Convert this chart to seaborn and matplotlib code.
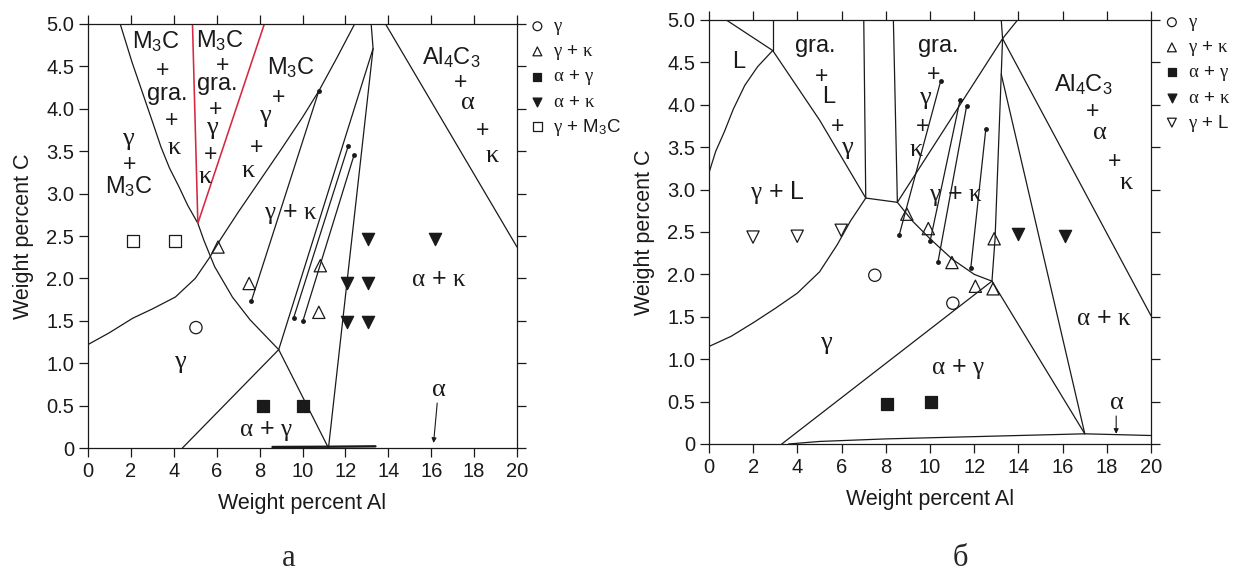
#!/usr/bin/env python3

import seaborn as sns
import matplotlib.pyplot as plt
from matplotlib.ticker import FixedLocator, FixedFormatter

# ---- panel a: phase boundaries (wt.% Al, wt.% C) ----
a_m3c_edge = [(1.5, 5.0), (2.05, 4.55), (2.58, 4.16), (3.0, 3.85), (3.4, 3.55), (3.8, 3.3),
              (4.24, 3.08), (4.65, 2.86), (5.12, 2.65), (5.4, 2.45), (5.9, 2.14), (6.73, 1.78),
              (7.56, 1.51), (8.89, 1.16), (11.21, 0.0)]
a_red_left = [(5.12, 2.65), (4.87, 5.0)]
a_red_right = [(5.12, 2.65), (8.22, 5.0)]
a_gamma_edge = [(0.0, 1.22), (1.0, 1.36), (2.08, 1.53), (3.0, 1.64), (4.07, 1.78), (5.0, 2.0),
                (5.65, 2.24), (6.2, 2.47), (7.0, 2.78), (8.0, 3.15), (9.0, 3.52), (10.0, 3.9),
                (10.76, 4.21), (11.6, 4.6), (12.43, 5.0)]
a_ag_edge = [(4.4, 0.0), (8.89, 1.16)]
a_gk_edge = [(8.89, 1.16), (13.29, 4.71)]
a_alpha_edge = [(11.21, 0.0), (13.29, 4.71), (13.2, 5.0)]
a_al4c3_edge = [(13.87, 5.0), (20.0, 2.37)]
a_alpha_base = [(8.6, 0.012), (11.2, 0.015), (13.4, 0.02)]
a_ties = [[(7.61, 1.73), (10.76, 4.21)],
          [(9.58, 1.53), (12.13, 3.56)],
          [(10.02, 1.5), (12.41, 3.46)]]

# panel a: alloys
a_gamma = [(5.03, 1.42)]
a_gamma_kappa = [(6.06, 2.37), (7.51, 1.94), (10.83, 2.15), (10.76, 1.6)]
a_alpha_gamma = [(8.17, 0.49), (10.02, 0.5)]
a_alpha_kappa = [(13.07, 2.46), (16.16, 2.46), (12.08, 1.95), (13.07, 1.95), (12.08, 1.48), (13.05, 1.48)]
a_gamma_m3c = [(2.08, 2.44), (4.07, 2.44)]

G, K, A = r'$\gamma$', r'$\kappa$', r'$\alpha$'
P = r'$+$'
GRA = r'$\mathrm{gra.}$'
L = r'$\mathrm{L}$'
M3C = r'M$_3$C'
AL4C3 = r'Al$_4$C$_3$'

a_labels = [(M3C, 3.16, 4.79), (P, 3.46, 4.48), (GRA, 3.65, 4.16), (P, 3.87, 3.88), (K, 4.04, 3.55),
            (M3C, 6.15, 4.8), (P, 6.26, 4.53), (GRA, 5.98, 4.28), (P, 5.93, 4.02), (G, 5.82, 3.76),
            (P, 5.7, 3.49), (K, 5.47, 3.21),
            (M3C, 9.47, 4.48), (P, 8.85, 4.16), (G, 8.3, 3.9), (P, 7.86, 3.57), (K, 7.48, 3.28),
            (G, 1.91, 3.63), (P, 1.91, 3.37), (M3C, 1.91, 3.08),
            (G + ' + ' + K, 9.47, 2.76),
            (AL4C3, 16.94, 4.6), (P, 17.36, 4.33), (A, 17.69, 4.08), (P, 18.36, 3.77), (K, 18.85, 3.46),
            (A + ' + ' + K, 16.36, 1.99), (G, 4.32, 1.0), (A + ' + ' + G, 8.3, 0.2), (A, 16.36, 0.69)]
a_arrow = [(16.28, 0.53), (16.11, 0.06)]

# ---- panel b: phase boundaries ----
b_l_top = [(0.78, 5.0), (2.88, 4.64)]
b_l_vert = [(2.88, 5.0), (2.88, 4.64)]
b_l_edge = [(0.0, 3.2), (0.3, 3.45), (0.69, 3.68), (1.1, 3.95), (1.62, 4.23), (2.2, 4.45), (2.88, 4.64)]
b_gl_edge = [(2.88, 4.64), (5.0, 3.82), (7.09, 2.9)]
b_gra_left = [(7.0, 5.0), (7.09, 2.9)]
b_gra_bottom = [(7.09, 2.9), (8.52, 2.85)]
b_gra_right = [(8.34, 5.0), (8.52, 2.85)]
b_kappa_edge = [(8.52, 2.85), (13.28, 4.78), (13.96, 5.0)]
b_vert_edge = [(13.22, 5.0), (13.28, 4.78), (13.22, 4.36), (12.94, 2.42), (12.8, 1.92)]
b_ak_edge = [(13.22, 4.36), (17.0, 0.12)]
b_al4c3_edge = [(13.28, 4.78), (20.0, 1.51)]
b_gk_edge = [(8.52, 2.85), (9.2, 2.63), (10.0, 2.42), (11.0, 2.18), (12.0, 2.0), (12.8, 1.92)]
b_ag_edge = [(3.29, 0.0), (12.8, 1.92)]
b_ag_right = [(12.8, 1.92), (17.0, 0.12)]
b_gamma_edge = [(0.0, 1.15), (1.0, 1.27), (2.0, 1.43), (3.0, 1.6), (4.0, 1.78), (5.0, 2.03),
                (5.8, 2.35), (6.4, 2.63), (7.09, 2.9)]
b_alpha_base = [(3.6, 0.0), (5.0, 0.03), (8.0, 0.06), (11.0, 0.08), (14.0, 0.1), (17.0, 0.12), (20.0, 0.1)]
b_ties = [[(8.6, 2.46), (10.48, 4.28)],
          [(10.0, 2.39), (11.36, 4.06)],
          [(10.36, 2.15), (11.65, 3.98)],
          [(11.84, 2.07), (12.52, 3.71)]]

# panel b: alloys
b_gamma = [(7.5, 1.99), (11.03, 1.66)]
b_gamma_kappa = [(8.95, 2.71), (9.92, 2.54), (12.9, 2.42), (10.99, 2.14), (12.05, 1.86), (12.85, 1.83)]
b_alpha_gamma = [(8.06, 0.47), (10.06, 0.5)]
b_alpha_kappa = [(13.96, 2.48), (16.1, 2.45)]
b_gamma_liquid = [(1.99, 2.44), (3.99, 2.45), (5.98, 2.52)]

b_labels = [(L, 1.34, 4.5),
            (GRA, 4.77, 4.68), (P, 5.05, 4.36), (L, 5.42, 4.09), (P, 5.79, 3.77), (G, 6.26, 3.48),
            (GRA, 10.34, 4.68), (P, 10.16, 4.38), (G, 9.79, 4.07), (P, 9.64, 3.77), (K, 9.38, 3.48),
            (G + ' + L', 3.1, 2.97), (G + ' + ' + K, 11.18, 2.93),
            (AL4C3, 16.94, 4.24), (P, 17.31, 3.94), (A, 17.68, 3.68), (P, 18.33, 3.36), (K, 18.89, 3.09),
            (A + ' + ' + K, 17.86, 1.49), (G, 5.33, 1.18), (A + ' + ' + G, 11.27, 0.88), (A, 18.42, 0.49)]
b_arrow = [(18.42, 0.33), (18.42, 0.12)]

x_ticks = list(range(0, 21, 2))
y_ticks = [0, 0.5, 1.0, 1.5, 2.0, 2.5, 3.0, 3.5, 4.0, 4.5, 5.0]
y_tick_labels = ['0', '0.5', '1.0', '1.5', '2.0', '2.5', '3.0', '3.5', '4.0', '4.5', '5.0']

sns.set_style('ticks')
plt.rcParams['font.family'] = ['Liberation Sans', 'DejaVu Sans']
plt.rcParams['mathtext.fontset'] = 'custom'
plt.rcParams['mathtext.rm'] = 'Liberation Sans'
plt.rcParams['mathtext.it'] = 'Liberation Serif'
plt.rcParams['mathtext.bf'] = 'Liberation Sans:bold'

INK = '#1a1a1a'
RED = '#d42940'


def label_size(s):
    if s in (G, K, A):
        return 19
    if s == P:
        return 16.5
    if ' + ' in s:
        return 18
    return 17


def draw_line(ax, pts, color=INK, lw=0.9, **kw):
    xs = [p[0] for p in pts]
    ys = [p[1] for p in pts]
    sns.lineplot(x=xs, y=ys, sort=False, estimator=None, color=color, lw=lw, ax=ax, **kw)


def draw_points(ax, pts, marker, filled, label):
    xs = [p[0] for p in pts]
    ys = [p[1] for p in pts]
    sns.scatterplot(x=xs, y=ys, marker=marker, s=78, ax=ax, label=label,
                    facecolor=INK if filled else 'none', edgecolor=INK, linewidth=0.9, zorder=5)


def panel(ax, lines, thick, red, ties, points, labels, arrow):
    for pts in lines:
        draw_line(ax, pts)
    for pts in thick:
        draw_line(ax, pts, lw=1.7)
    for pts in red:
        draw_line(ax, pts, color=RED, lw=1.15)
    for pts in ties:
        draw_line(ax, pts, marker='o', markersize=3.5, markeredgewidth=0)
    for pts, marker, filled, label in points:
        draw_points(ax, pts, marker, filled, label)
    for s, x, y in labels:
        ax.text(x, y, s, ha='center', va='center', fontsize=label_size(s), color=INK)
    ax.annotate('', xy=arrow[1], xytext=arrow[0],
                arrowprops=dict(arrowstyle='-|>', color=INK, lw=0.8, mutation_scale=7,
                                shrinkA=0, shrinkB=0))

    ax.set_xlim(0, 20)
    ax.set_ylim(0, 5)
    ax.xaxis.set_major_locator(FixedLocator(x_ticks))
    ax.yaxis.set_major_locator(FixedLocator(y_ticks))
    ax.yaxis.set_major_formatter(FixedFormatter(y_tick_labels))
    ax.tick_params(which='both', direction='out', top=True, right=True, length=6.5,
                   width=0.9, color=INK, labelsize=14.5, labelcolor=INK)
    for sp in ax.spines.values():
        sp.set_visible(True)
        sp.set_linewidth(0.9)
        sp.set_color(INK)
    ax.set_xlabel('Weight percent Al', fontsize=15.5, labelpad=9, color=INK)
    ax.set_ylabel('Weight percent C', fontsize=15.5, labelpad=9, color=INK)
    # legend last: seaborn calls ax.legend() on its own after each plot
    leg = ax.legend(loc='upper left', bbox_to_anchor=(1.03, 1.014), frameon=False,
                    fontsize=13.5, handlelength=0.8, handletextpad=0.45, labelspacing=0.32,
                    borderaxespad=0, borderpad=0, markerscale=0.72)
    for t in leg.get_texts():
        t.set_color(INK)


fig = plt.figure(figsize=(12.47, 5.74), dpi=100)
ax_a = fig.add_axes([0.0706, 0.2195, 0.344, 0.7387])
ax_b = fig.add_axes([0.5686, 0.2265, 0.3545, 0.7387])

panel(ax_a,
      [a_m3c_edge, a_gamma_edge, a_ag_edge, a_gk_edge, a_alpha_edge, a_al4c3_edge],
      [a_alpha_base], [a_red_left, a_red_right], a_ties,
      [(a_gamma, 'o', False, G), (a_gamma_kappa, '^', False, G + ' + ' + K),
       (a_alpha_gamma, 's', True, A + ' + ' + G), (a_alpha_kappa, 'v', True, A + ' + ' + K),
       (a_gamma_m3c, 's', False, G + ' + ' + M3C)],
      a_labels, a_arrow)

panel(ax_b,
      [b_l_top, b_l_vert, b_l_edge, b_gl_edge, b_gra_left, b_gra_bottom, b_gra_right, b_kappa_edge,
       b_vert_edge, b_ak_edge, b_al4c3_edge, b_gk_edge, b_ag_edge, b_ag_right, b_gamma_edge, b_alpha_base],
      [], [], b_ties,
      [(b_gamma, 'o', False, G), (b_gamma_kappa, '^', False, G + ' + ' + K),
       (b_alpha_gamma, 's', True, A + ' + ' + G), (b_alpha_kappa, 'v', True, A + ' + ' + K),
       (b_gamma_liquid, 'v', False, G + ' + L')],
      b_labels, b_arrow)

fig.text(289 / 1247, 0.014, '\u0430', ha='center', va='baseline', fontsize=22, family='Liberation Serif')
fig.text(960 / 1247, 0.014, '\u0431', ha='center', va='baseline', fontsize=22, family='Liberation Serif')

fig.savefig('out.png', dpi=100)
